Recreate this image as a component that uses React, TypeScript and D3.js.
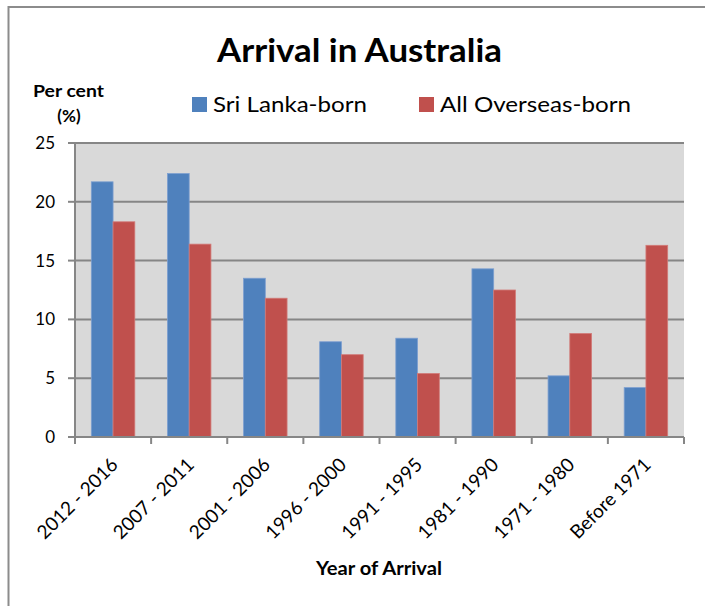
import React from "react";
import * as d3 from "d3";

const categories = [
  "2012 - 2016",
  "2007 - 2011",
  "2001 - 2006",
  "1996 - 2000",
  "1991 - 1995",
  "1981 - 1990",
  "1971 - 1980",
  "Before 1971",
];
const sriLankaBorn = [21.7, 22.4, 13.5, 8.1, 8.4, 14.3, 5.2, 4.2];
const allOverseasBorn = [18.3, 16.4, 11.8, 7.0, 5.4, 12.5, 8.8, 16.3];
const seriesNames = ["Sri Lanka-born", "All Overseas-born"];
const yTicks = [0, 5, 10, 15, 20, 25];

const COLORS = ["#4f81bd", "#c0504d"];
const FONT = "Lato, 'Open Sans', sans-serif";

export default function App() {
  const W = 705;
  const H = 606;
  const plot = { left: 75, right: 684, top: 143, bottom: 437 };

  const x0 = d3
    .scaleBand<string>()
    .domain(categories)
    .range([plot.left, plot.right])
    .paddingInner(0)
    .paddingOuter(0);
  const groupPad = x0.bandwidth() * (0.75 / 3.5);
  const x1 = d3
    .scaleBand<number>()
    .domain([0, 1])
    .range([groupPad, x0.bandwidth() - groupPad]);
  const y = d3.scaleLinear().domain([0, 25]).range([plot.bottom, plot.top]);

  const series = [sriLankaBorn, allOverseasBorn];
  const legend = [
    { sx: 192, tx: 213, len: 154 },
    { sx: 419, tx: 440, len: 191 },
  ];

  return (
    <svg
      width={W}
      height={H}
      style={{ position: "absolute", left: 0, top: 0, background: "#fff" }}
      fontFamily={FONT}
    >
      {/* chart frame */}
      <rect x={8.5} y={7} width={W + 20} height={H + 20} fill="#fff" stroke="#8c8c8c" strokeWidth={2} />

      {/* title */}
      <text
        x={217}
        y={62}
        fontSize={32}
        fontWeight="bold"
        fill="#000"
        textLength={285}
        lengthAdjust="spacingAndGlyphs"
      >
        Arrival in Australia
      </text>

      {/* y axis title */}
      <text x={33} y={97} fontSize={17} fontWeight="bold" textLength={71} lengthAdjust="spacingAndGlyphs">
        Per cent
      </text>
      <text x={69} y={122} textAnchor="middle" fontSize={17} fontWeight="bold">(%)</text>

      {/* legend */}
      {seriesNames.map((name, i) => (
        <g key={name}>
          <rect x={legend[i].sx} y={97} width={15} height={15} fill={COLORS[i]} />
          <text
            x={legend[i].tx}
            y={112}
            fontSize={22}
            fill="#000"
            textLength={legend[i].len}
            lengthAdjust="spacingAndGlyphs"
          >
            {name}
          </text>
        </g>
      ))}

      {/* plot area */}
      <rect
        x={plot.left}
        y={plot.top}
        width={plot.right - plot.left}
        height={plot.bottom - plot.top}
        fill="#d9d9d9"
      />
      {yTicks.map((t) => (
        <g key={t}>
          {t > 0 && (
            <line x1={plot.left} x2={plot.right} y1={y(t)} y2={y(t)} stroke="#868686" strokeWidth={2} />
          )}
          <line x1={plot.left - 7} x2={plot.left} y1={y(t)} y2={y(t)} stroke="#868686" strokeWidth={2} />
          <text x={plot.left - 20} y={y(t) + 6} textAnchor="end" fontSize={17} fill="#000">
            {t}
          </text>
        </g>
      ))}

      {/* bars */}
      {categories.map((c, ci) => (
        <g key={c} transform={`translate(${x0(c)},0)`}>
          {series.map((vals, si) => (
            <rect
              key={si}
              x={x1(si)}
              y={y(vals[ci])}
              width={x1.bandwidth()}
              height={y(0) - y(vals[ci])}
              fill={COLORS[si]}
              stroke={si === 0 ? "#7d9fd0" : "#d27a78"}
              strokeWidth={0.8}
            />
          ))}
        </g>
      ))}

      {/* axes */}
      <line x1={plot.left} x2={plot.left} y1={plot.top} y2={plot.bottom} stroke="#868686" strokeWidth={2} />
      <line x1={plot.left} x2={plot.right} y1={plot.bottom} y2={plot.bottom} stroke="#868686" strokeWidth={2} />
      {[...categories.map((c) => x0(c) as number), plot.right].map((xv, i) => (
        <line key={i} x1={xv} x2={xv} y1={plot.bottom} y2={plot.bottom + 7} stroke="#868686" strokeWidth={2} />
      ))}

      {/* category labels */}
      {categories.map((c) => {
        const cx = (x0(c) as number) + x0.bandwidth() / 2 + 6;
        const cy = plot.bottom + 29;
        return (
          <text
            key={c}
            transform={`translate(${cx},${cy}) rotate(-45)`}
            textAnchor="end"
            fontSize={19}
            fill="#000"
          >
            {c}
          </text>
        );
      })}

      {/* x axis title */}
      <text
        x={316}
        y={575}
        fontSize={18}
        fontWeight="bold"
        textLength={126}
        lengthAdjust="spacingAndGlyphs"
      >
        Year of Arrival
      </text>
    </svg>
  );
}
